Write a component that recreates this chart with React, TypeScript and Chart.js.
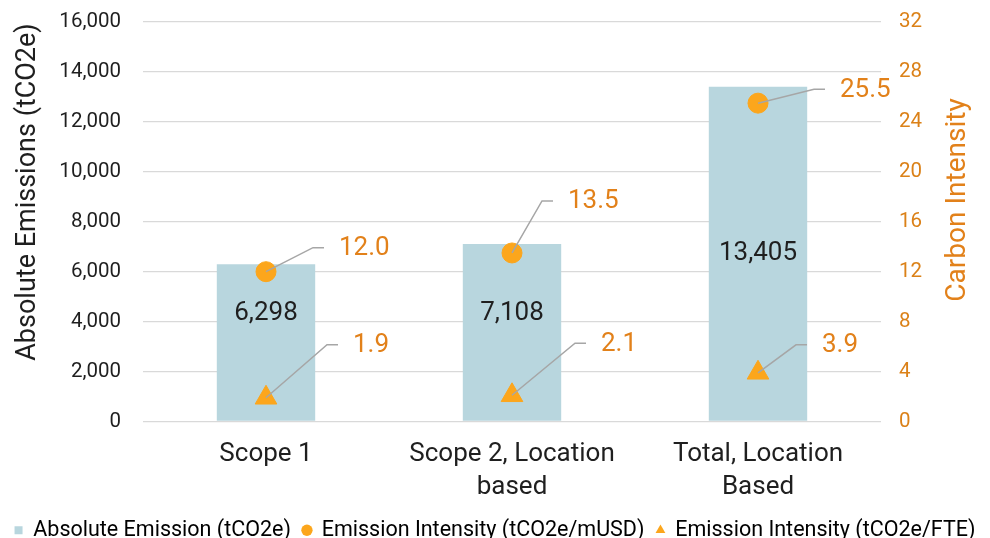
import React, { useEffect, useRef } from "react";
import { Chart, registerables } from "chart.js";

Chart.register(...registerables);

const categories: (string | string[])[] = ["Scope 1", ["Scope 2, Location", "based"], ["Total, Location", "Based"]];
const absoluteEmission = [6298, 7108, 13405];
const intensityUSD = [12.0, 13.5, 25.5];
const intensityFTE = [1.9, 2.1, 3.9];
const leftTicks = [0, 2000, 4000, 6000, 8000, 10000, 12000, 14000, 16000];
const rightTicks = [0, 4, 8, 12, 16, 20, 24, 28, 32];

// label layout (pixel offsets from the point: elbow dx, dy)
const usdLabelOffsets = [[47, -24], [30, -52], [56, -14]];
const fteLabelOffsets = [[61, -53], [63, -52], [38, -28]];
const barLabelShift = [-29, -19, 0];

const BAR = "#B8D6DE";
const POINT = "#FCA61C";
const ORANGE_TXT = "#E2811A";
const ORANGE_TICK = "#DB8118";
const DARK = "#1f1f1f";
const FONT = "Roboto, 'Noto Sans', sans-serif";

const labelPlugin = {
  id: "labelPlugin",
  afterDatasetsDraw(chart: any) {
    const ctx = chart.ctx;
    ctx.save();
    const barMeta = chart.getDatasetMeta(0);
    ctx.font = `26px ${FONT}`;
    ctx.fillStyle = DARK;
    ctx.textAlign = "center";
    ctx.textBaseline = "middle";
    barMeta.data.forEach((el: any, i: number) => {
      const mid = (el.y + el.base) / 2 + barLabelShift[i];
      ctx.fillText(absoluteEmission[i].toLocaleString("en-US"), el.x, mid);
    });
    const drawLeader = (dsIndex: number, values: number[], offsets: number[][]) => {
      const meta = chart.getDatasetMeta(dsIndex);
      meta.data.forEach((el: any, i: number) => {
        const [dx, dy] = offsets[i];
        const ex = el.x + dx;
        const ey = el.y + dy;
        ctx.strokeStyle = "#A6A6A6";
        ctx.lineWidth = 1.5;
        ctx.beginPath();
        ctx.moveTo(el.x, el.y);
        ctx.lineTo(ex, ey);
        ctx.lineTo(ex + 11, ey);
        ctx.stroke();
        ctx.font = `26px ${FONT}`;
        ctx.fillStyle = ORANGE_TXT;
        ctx.textAlign = "left";
        ctx.textBaseline = "middle";
        ctx.fillText(values[i].toFixed(1), ex + 26, ey + 1);
      });
    };
    drawLeader(1, intensityUSD, usdLabelOffsets);
    drawLeader(2, intensityFTE, fteLabelOffsets);
    ctx.restore();
  },
  afterDraw(chart: any) {
    const ctx = chart.ctx;
    ctx.save();
    ctx.font = `27px ${FONT}`;
    ctx.textAlign = "center";
    ctx.textBaseline = "middle";
    ctx.translate(28, 192);
    ctx.rotate(-Math.PI / 2);
    ctx.fillStyle = DARK;
    ctx.fillText("Absolute Emissions (tCO2e)", 0, 0);
    ctx.restore();
    ctx.save();
    ctx.font = `28px ${FONT}`;
    ctx.textAlign = "center";
    ctx.textBaseline = "middle";
    ctx.translate(958, 200);
    ctx.rotate(-Math.PI / 2);
    ctx.fillStyle = ORANGE_TXT;
    ctx.fillText("Carbon Intensity", 0, 0);
    ctx.restore();
  },
};

const noPad = (s: any) => { s.paddingTop = 0; s.paddingBottom = 0; };

export default function App() {
  const ref = useRef<HTMLCanvasElement | null>(null);
  useEffect(() => {
    if (!ref.current) return;
    const chart = new Chart(ref.current, {
      type: "bar",
      data: {
        labels: categories as any,
        datasets: [
          {
            type: "bar",
            label: "Absolute Emission (tCO2e)",
            data: absoluteEmission,
            backgroundColor: BAR,
            yAxisID: "y",
            categoryPercentage: 1,
            barPercentage: 0.4,
            order: 3,
          } as any,
          {
            type: "line",
            label: "Emission Intensity (tCO2e/mUSD)",
            data: intensityUSD,
            yAxisID: "y1",
            showLine: false,
            pointStyle: "circle",
            pointRadius: 10,
            pointBackgroundColor: POINT,
            pointBorderColor: POINT,
            backgroundColor: POINT,
            borderColor: POINT,
            order: 1,
          },
          {
            type: "line",
            label: "Emission Intensity (tCO2e/FTE)",
            data: intensityFTE,
            yAxisID: "y1",
            showLine: false,
            pointStyle: "triangle",
            pointRadius: 12.5,
            pointBackgroundColor: POINT,
            pointBorderColor: POINT,
            backgroundColor: POINT,
            borderColor: POINT,
            order: 2,
          },
        ],
      },
      options: {
        animation: false,
        responsive: false,
        maintainAspectRatio: false,
        layout: { padding: { top: 22, left: 0, right: 0, bottom: -13 } },
        plugins: {
          tooltip: { enabled: false },
          legend: {
            position: "bottom",
            labels: {
              usePointStyle: true,
              boxWidth: 8,
              boxHeight: 8,
              padding: 12,
              color: DARK,
              font: { size: 21.5, family: FONT },
              generateLabels: () => [
                { text: "Absolute Emission (tCO2e)", fillStyle: BAR, strokeStyle: BAR, lineWidth: 0, pointStyle: "rect", datasetIndex: 0 },
                { text: "Emission Intensity (tCO2e/mUSD)", fillStyle: POINT, strokeStyle: POINT, lineWidth: 0, pointStyle: "circle", datasetIndex: 1 },
                { text: "Emission Intensity (tCO2e/FTE)", fillStyle: POINT, strokeStyle: POINT, lineWidth: 0, pointStyle: "triangle", datasetIndex: 2 },
              ] as any,
            },
          },
        },
        scales: {
          x: {
            grid: { display: false },
            border: { display: false },
            ticks: {
              color: DARK,
              font: { size: 26, family: FONT, lineHeight: 1.27 },
              padding: 8,
              maxRotation: 0,
              autoSkip: false,
            },
            afterFit: (s: any) => { s.height = 86; },
          },
          y: {
            position: "left",
            min: 0,
            max: 16000,
            afterBuildTicks: (s: any) => { s.ticks = leftTicks.map((v) => ({ value: v })); },
            ticks: {
              color: DARK,
              font: { size: 20.5, family: FONT },
              padding: 22,
              callback: (v: any) => Number(v).toLocaleString("en-US"),
            },
            grid: { color: "#D9D9D9", lineWidth: 1.3, drawTicks: false },
            border: { display: false },
            afterFit: (s: any) => { s.width = 143; noPad(s); },
          },
          y1: {
            position: "right",
            min: 0,
            max: 32,
            afterBuildTicks: (s: any) => { s.ticks = rightTicks.map((v) => ({ value: v })); },
            ticks: {
              color: ORANGE_TICK,
              font: { size: 20.5, family: FONT },
              padding: 18,
            },
            grid: { display: false, drawTicks: false },
            border: { display: false },
            afterFit: (s: any) => { s.width = 109; noPad(s); },
          },
        },
      },
      plugins: [labelPlugin],
    } as any);
    return () => chart.destroy();
  }, []);
  return (
    <div style={{ position: "fixed", left: 0, top: 0, width: 990, height: 538, background: "#fff" }}>
      <canvas ref={ref} width={990} height={538} style={{ width: 990, height: 538 }} />
    </div>
  );
}
